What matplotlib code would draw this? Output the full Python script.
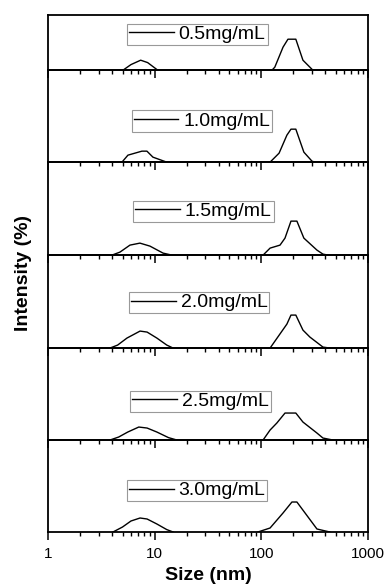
import matplotlib
matplotlib.use('Agg')
import matplotlib.pyplot as plt
from matplotlib.ticker import LogLocator, NullFormatter, FixedLocator, FixedFormatter

plt.rcParams['font.family'] = ['Liberation Sans', 'DejaVu Sans']

# concentrations (one panel each, top to bottom)
labels = ['0.5mg/mL', '1.0mg/mL', '1.5mg/mL', '2.0mg/mL', '2.5mg/mL', '3.0mg/mL']

# small-particle peak: size (nm), intensity (%)
small_size = [
    [5.05, 6.0, 7.4, 8.6, 10.7],
    [4.94, 5.62, 7.6, 8.47, 9.64, 13.0],
    [3.98, 4.73, 5.87, 7.28, 9.04, 12.0, 14.5],
    [3.81, 4.5, 5.5, 7.3, 8.5, 10.5, 13.0, 14.9],
    [3.81, 4.6, 5.6, 7.1, 8.5, 10.5, 13.5, 16.2],
    [4.07, 5.0, 6.0, 7.3, 8.5, 10.5, 13.0, 14.9],
]
small_int = [
    [0, 2.8, 5.0, 3.8, 0],
    [0, 3.5, 5.5, 5.5, 2.5, 0],
    [0, 1.5, 5.0, 6.0, 4.5, 1.0, 0],
    [0, 1.5, 5.0, 8.5, 8.0, 5.0, 1.5, 0],
    [0, 1.5, 4.0, 6.5, 6.0, 4.0, 1.2, 0],
    [0, 2.5, 5.5, 7.0, 6.5, 4.0, 1.2, 0],
]

# large-particle peak: size (nm), intensity (%)
large_size = [
    [126, 134, 160, 178, 211, 246, 305],
    [121, 147, 174, 190, 211, 251, 299, 318],
    [104, 121, 150, 167, 190, 216, 251, 333, 379, 422],
    [121, 174, 190, 211, 246, 286, 379, 440],
    [104, 121, 140, 167, 211, 246, 333, 379, 470],
    [93, 121, 160, 194, 216, 333, 440],
]
large_int = [
    [0, 1.5, 11.5, 15.5, 15.5, 5.0, 0],
    [0, 4.5, 13.5, 16.5, 16.5, 5.0, 0.5, 0],
    [0, 3.5, 5.0, 8.5, 17.0, 17.0, 8.5, 2.5, 0.5, 0],
    [0, 12.0, 16.5, 16.5, 9.0, 5.5, 0.5, 0],
    [0, 5.0, 8.5, 13.5, 13.5, 9.0, 3.5, 1.0, 0],
    [0, 2.0, 9.5, 15.0, 15.0, 1.5, 0],
]

# y-axis tops (%) for each panel, legend anchor in axes fraction
ytop = [27.5, 46, 46.5, 46.5, 46, 46]
leg_xy = [(0.467, 0.65), (0.481, 0.45), (0.486, 0.47),
          (0.473, 0.49), (0.477, 0.42), (0.466, 0.45)]

fig = plt.figure(figsize=(3.84, 5.85), dpi=100)
gs = fig.add_gridspec(6, 1, height_ratios=ytop, hspace=0,
                      left=0.125, right=0.958, top=0.974, bottom=0.0906)

axes = []
for i in range(6):
    ax = fig.add_subplot(gs[i])
    axes.append(ax)
    ax.patch.set_visible(False)
    ax.plot(small_size[i], small_int[i], color='black', lw=1.0, label=labels[i])
    ax.plot(large_size[i], large_int[i], color='black', lw=1.0)
    ax.set_xscale('log')
    ax.set_xlim(1, 1000)
    ax.set_ylim(0, ytop[i])
    ax.set_yticks([])
    for s in ax.spines.values():
        s.set_linewidth(1.3)
    ax.xaxis.set_major_locator(FixedLocator([1, 10, 100, 1000]))
    ax.xaxis.set_minor_locator(LogLocator(base=10, subs=range(2, 10)))
    ax.xaxis.set_minor_formatter(NullFormatter())
    ax.tick_params(axis='x', which='major', direction='out', length=6, width=1.1,
                   labelsize=11, pad=5, top=False)
    ax.tick_params(axis='x', which='minor', direction='out', length=3, width=1.0,
                   top=False)
    if i < 5:
        ax.tick_params(axis='x', which='both', labelbottom=False)
    else:
        ax.xaxis.set_major_formatter(FixedFormatter(['1', '10', '100', '1000']))
    leg = ax.legend(loc='center', bbox_to_anchor=leg_xy[i], fontsize=14,
                    frameon=True, fancybox=False, handlelength=2.3,
                    handletextpad=0.25, borderpad=0.1, borderaxespad=0)
    leg.get_frame().set_edgecolor('#808080')
    leg.get_frame().set_linewidth(0.8)

axes[-1].set_xlabel('Size (nm)', fontsize=14, fontweight='bold', labelpad=4)
fig.text(0.06, 1 - 273 / 585, 'Intensity (%)', rotation=90, fontsize=14,
         fontweight='bold', ha='center', va='center')

fig.savefig('out.png', dpi=100)
